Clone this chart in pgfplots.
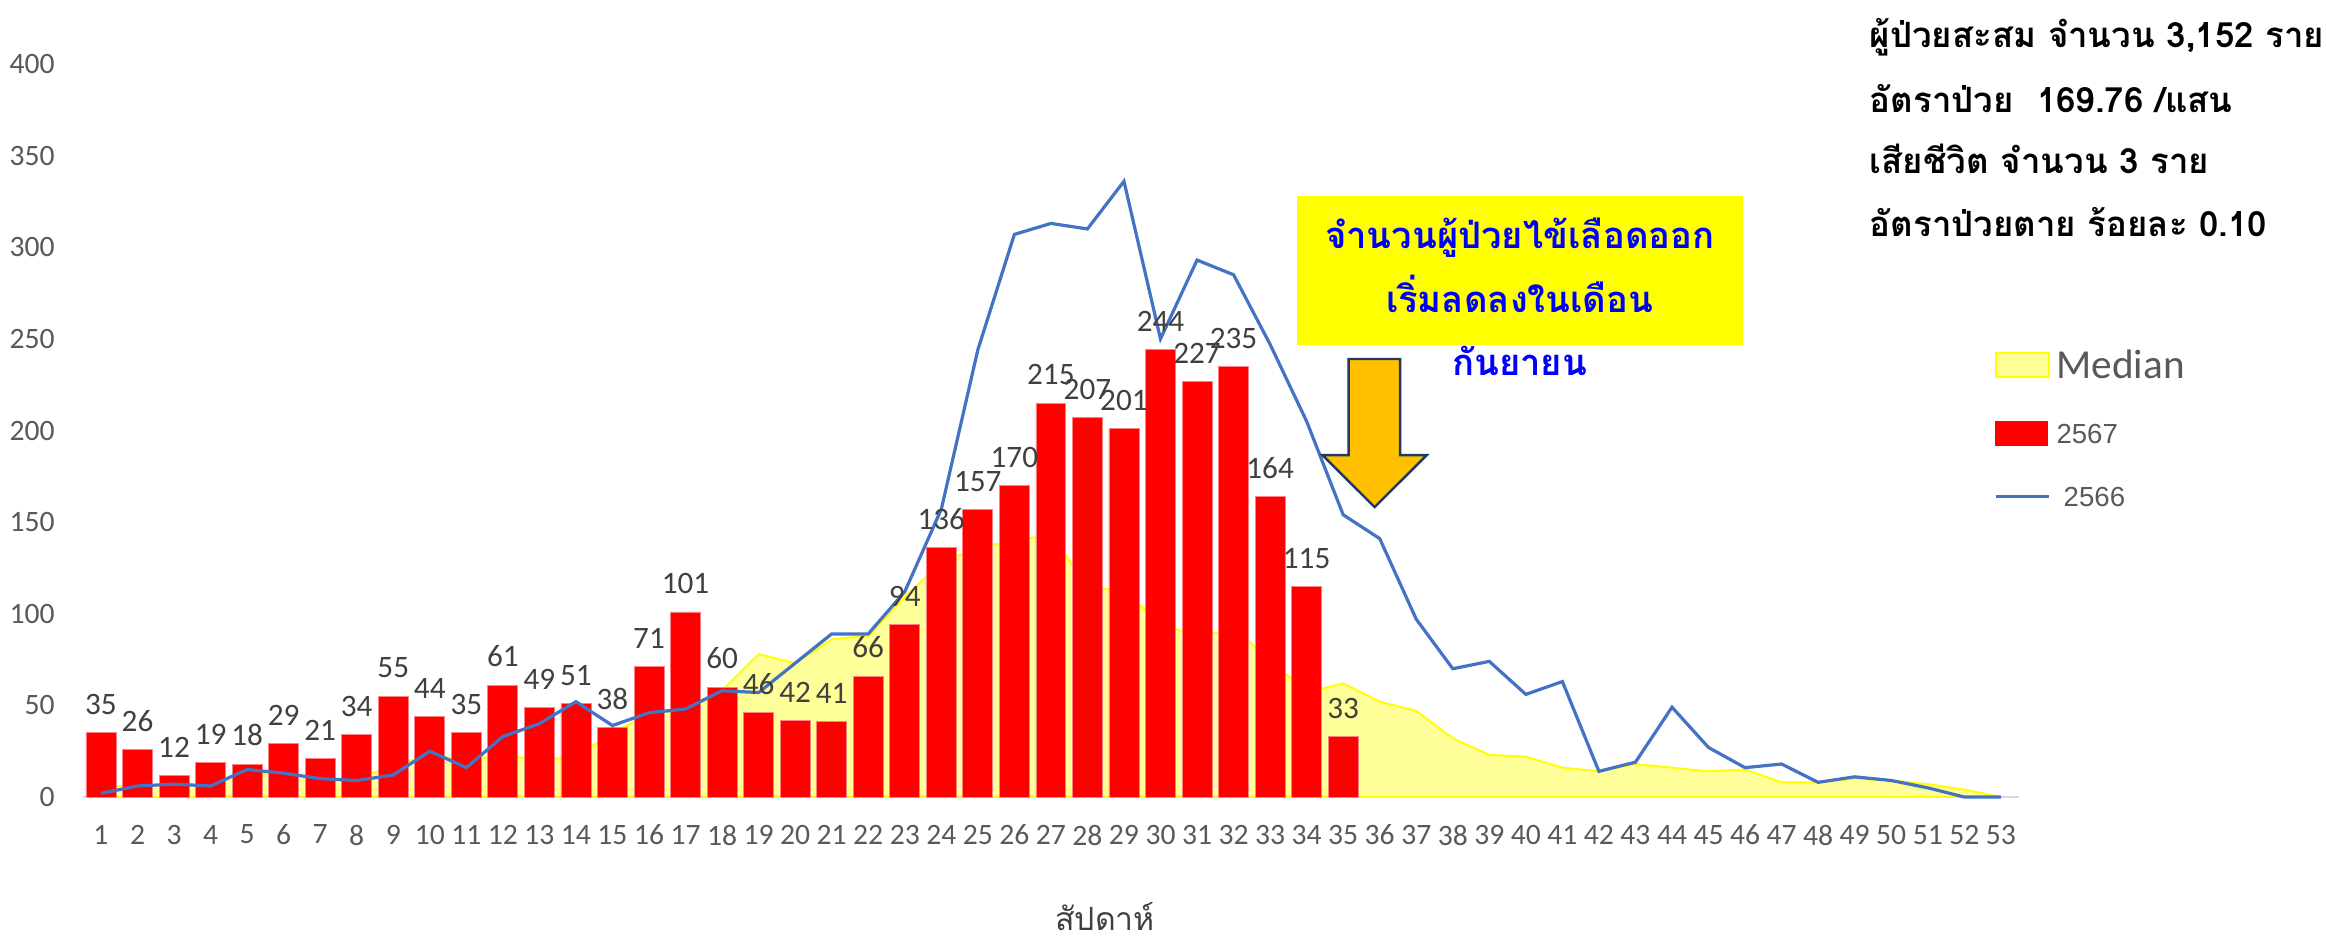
\documentclass[border=0pt]{standalone}
\usepackage{pgfplots}
\usepackage{pgfplotstable}
\pgfplotsset{compat=1.18}
\usepackage{fontspec}
\setmainfont{Carlito}
\newfontfamily\thaifont[Script=Thai]{Loma}
\newfontfamily\arialfont{Liberation Sans}

\definecolor{medfill}{HTML}{FFFF99}
\definecolor{medline}{HTML}{FFFF00}
\definecolor{bar67}{HTML}{FF0000}
\definecolor{baredge}{HTML}{FF8080}
\definecolor{line66}{HTML}{4472C4}
\definecolor{ticktxt}{HTML}{595959}
\definecolor{lbltxt}{HTML}{404040}
\definecolor{axisgray}{HTML}{D9D9D9}
\definecolor{arrowfill}{HTML}{FFC000}
\definecolor{arrowline}{HTML}{1F3864}
\definecolor{notetxt}{HTML}{0000FF}

% median of previous years
\pgfplotstableread{
week val
1 5
2 7
3 6
4 8
5 13
6 12
7 10
8 10
9 17
10 23
11 20
12 23
13 20
14 22
15 35
16 45
17 48
18 58
19 78
20 73
21 86
22 88
23 109
24 128
25 136
26 140
27 143
28 115
29 112
30 95
31 87
32 92
33 75
34 57
35 62
36 52
37 47
38 32
39 23
40 22
41 16
42 14
43 18
44 16
45 14
46 15
47 8
48 8
49 10
50 9
51 7
52 4
53 0
}\median

% 2567
\pgfplotstableread{
week val
1 35
2 26
3 12
4 19
5 18
6 29
7 21
8 34
9 55
10 44
11 35
12 61
13 49
14 51
15 38
16 71
17 101
18 60
19 46
20 42
21 41
22 66
23 94
24 136
25 157
26 170
27 215
28 207
29 201
30 244
31 227
32 235
33 164
34 115
35 33
}\cur

% 2566
\pgfplotstableread{
week val
1 2
2 6
3 7
4 6
5 15
6 13
7 10
8 9
9 12
10 25
11 16
12 33
13 40
14 52
15 39
16 46
17 48
18 58
19 57
20 73
21 89
22 89
23 112
24 157
25 244
26 307
27 313
28 310
29 336
30 250
31 293
32 285
33 247
34 205
35 154
36 141
37 97
38 70
39 74
40 56
41 63
42 14
43 19
44 49
45 27
46 16
47 18
48 8
49 11
50 9
51 5
52 0
53 0
}\prev

\begin{document}
\begin{tikzpicture}
\useasboundingbox (-20.675pt,-36pt) rectangle (560.825pt,199.25pt);
\begin{axis}[
    scale only axis,
    width=484.1pt, height=183.25pt,
    xmin=0.5, xmax=53.5,
    ymin=0, ymax=400,
    xtick={1,...,53},
    ytick={0,50,...,400},
    axis x line*=bottom,
    axis y line*=left,
    x axis line style={draw=axisgray, line width=0.5pt, -},
    y axis line style={draw=none},
    major tick length=0pt,
    tick style={draw=none},
    tick label style={font=\fontsize{7.4}{8}\selectfont, text=ticktxt},
    /pgf/number format/assume math mode=true,
    yticklabel style={inner sep=0pt, anchor=east, xshift=-6.8pt},
    xticklabel style={inner sep=0pt, anchor=north, yshift=-6.8pt},
    xlabel={\thaifont สัปดาห์},
    xlabel style={at={(axis description cs:0.528,-0.182)}, anchor=base,
        font=\fontsize{8}{9}\selectfont, text=lbltxt, inner sep=0pt},
    clip=false,
    no markers,
    legend cell align=left,
    legend style={
        at={(axis description cs:0.9871,0.6106)}, anchor=north west,
        draw=none, fill=none, inner sep=0pt, outer sep=0pt,
        row sep=9.3pt,
        nodes={inner xsep=1.5pt, inner ysep=0pt, anchor=base west},
    },
]
% Median (area)
\addplot[fill=medfill, draw=medline, line width=0.5pt,
    legend image code/.code={\draw[fill=medfill, draw=medline, line width=0.5pt] (0pt,0.3pt) rectangle (13.25pt,6.3pt);}]
    table[x=week, y=val]{\median} \closedcycle;
\addlegendentry{\fontsize{10.3}{11}\selectfont\color{ticktxt}Median}

% 2567 (bars)
\addplot[ybar, bar width=0.82, fill=bar67, draw=baredge, line width=0.2pt,
    legend image code/.code={\fill[bar67] (0pt,-0.5pt) rectangle (13pt,5.5pt);},
    nodes near coords,
    nodes near coords style={font=\fontsize{7.8}{8}\selectfont, text=lbltxt,
        inner sep=0pt, anchor=south, yshift=4.4pt}]
    table[x=week, y=val]{\cur};
\addlegendentry{\arialfont\fontsize{6.9}{8}\selectfont\color{ticktxt}2567}

% 2566 (line)
\addplot[draw=line66, line width=0.8pt, sharp plot,
    legend image code/.code={\draw[line66, line width=0.8pt] (0pt,2.4pt) -- (13.3pt,2.4pt);}]
    table[x=week, y=val]{\prev};
\addlegendentry{\arialfont\fontsize{6.9}{8}\selectfont\color{ticktxt}\hspace{1.8pt}2566}

% note box and arrow
\fill[medline] (axis cs:33.73,246.6) rectangle (axis cs:45.94,327.9);
\node[anchor=base, text=notetxt, inner sep=0pt, font=\thaifont\bfseries\fontsize{9.1}{11}\selectfont]
    at (axis cs:39.83,299.5) {จำนวนผู้ป่วยไข้เลือดออก};
\node[anchor=base, text=notetxt, inner sep=0pt, font=\thaifont\bfseries\fontsize{9.1}{11}\selectfont]
    at (axis cs:39.83,264.6) {เริ่มลดลงในเดือน};
\node[anchor=base, text=notetxt, inner sep=0pt, font=\thaifont\bfseries\fontsize{9.1}{11}\selectfont]
    at (axis cs:39.83,230.2) {กันยายน};
\draw[fill=arrowfill, draw=arrowline, line width=0.6pt, line join=miter]
    (axis cs:35.15,239) -- (axis cs:36.56,239) -- (axis cs:36.56,186.6)
    -- (axis cs:37.29,186.6) -- (axis cs:35.86,158.2) -- (axis cs:34.43,186.6)
    -- (axis cs:35.15,186.6) -- cycle;

% summary text
\begin{scope}[every node/.style={anchor=base west, inner sep=0pt,
    font=\thaifont\bfseries\fontsize{8.7}{9}\selectfont}]
\node at (axis description cs:0.9225,1.0232) {ผู้ป่วยสะสม จำนวน 3,152 ราย};
\node at (axis description cs:0.9225,0.9345) {อัตราป่วย~ 169.76 /แสน};
\node at (axis description cs:0.9225,0.8510) {เสียชีวิต จำนวน 3 ราย};
\node at (axis description cs:0.9225,0.7640) {อัตราป่วยตาย ร้อยละ 0.10};
\end{scope}
\end{axis}
\end{tikzpicture}
\end{document}
